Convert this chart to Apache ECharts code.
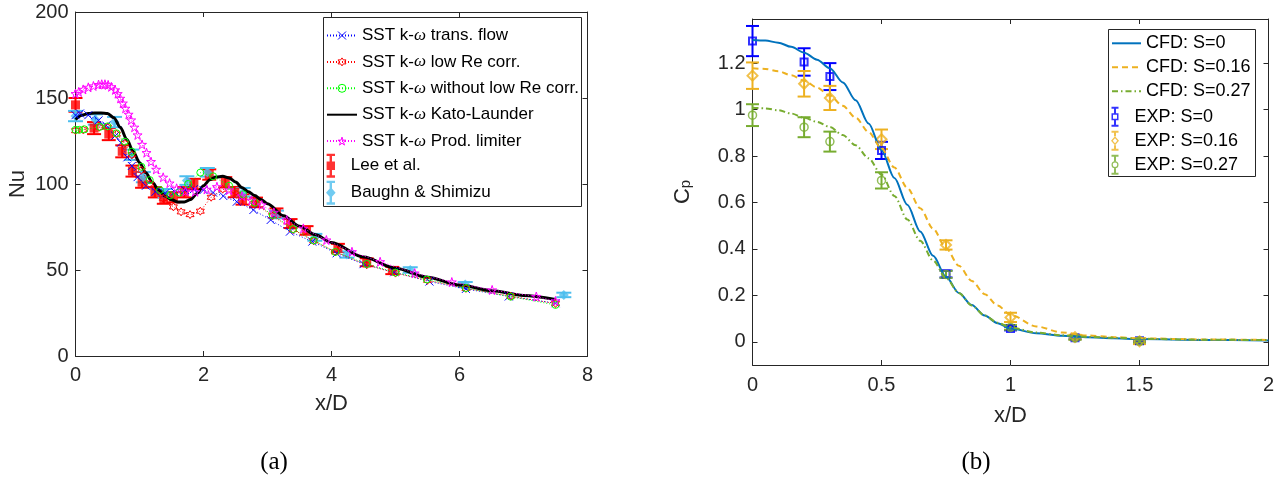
<!DOCTYPE html>
<html><head><meta charset="utf-8">
<script src="https://cdn.jsdelivr.net/npm/echarts@6/dist/echarts.min.js"></script>
<style>html,body{margin:0;padding:0;background:#fff}#c{width:1286px;height:479px}</style>
</head><body><div id="c"></div>
<script>
// ---------------- (a) Nu vs x/D ----------------
const transFlow = [[0,140],[0.07,141],[0.2,140],[0.36,137],[0.48,134],[0.62,128],[0.71,124],[0.81,115.5],[0.88,110.5],[0.97,104],[1.1,99],[1.25,95.5],[1.4,94.6],[1.55,95.5],[1.71,96.5],[1.85,97],[2.0,96.5],[2.15,95],[2.31,93],[2.52,89.7],[2.78,84.9],[3.05,79.1],[3.35,72.3],[3.7,66.5],[4.08,59.7],[4.5,53.4],[4.98,48.7],[5.53,43.3],[6.1,39],[6.77,34.6],[7.5,30.7]];
const lowReCorr = [[0,131],[0.12,131.5],[0.37,133],[0.5,133],[0.64,129],[0.77,123.5],[0.88,117],[1.03,108],[1.16,100],[1.37,91.7],[1.53,86.7],[1.65,83.8],[1.79,82.2],[1.95,84.2],[2.12,92.3],[2.3,97],[2.52,94],[2.8,88.5],[3.08,81.5],[3.4,73.5],[3.72,67],[4.06,60.5],[4.55,53],[5.0,48.2],[5.5,44],[6.1,39.3],[6.8,34.8],[7.5,30.5]];
const withoutLowRe = [[0,131.5],[0.06,131.5],[0.14,131.8],[0.38,133.2],[0.5,133.5],[0.64,129.5],[0.77,124.6],[0.88,118.8],[1.03,110],[1.16,102.3],[1.32,96.5],[1.48,93.5],[1.62,95],[1.76,100],[1.95,106.6],[2.15,104.5],[2.4,99],[2.62,94],[2.8,89.1],[3.08,82],[3.4,73.8],[3.72,67.2],[4.06,60.5],[4.55,53.5],[5.0,48.5],[5.49,44.5],[6.1,39.5],[6.8,34.5],[7.5,29.7]];
const katoLaunder = [[0,137.5],[0.1,140],[0.2,141],[0.3,141.3],[0.4,141.3],[0.5,141],[0.6,138.5],[0.7,133],[0.8,126],[0.9,119],[1.0,112.5],[1.1,106.5],[1.2,101],[1.3,96.5],[1.4,93],[1.5,90.8],[1.6,89.5],[1.7,89.5],[1.8,91],[1.9,94.5],[2.0,99],[2.1,102.5],[2.2,104],[2.3,104.5],[2.4,103.5],[2.5,101.2],[2.6,98],[2.7,95.5],[2.8,93.3],[2.9,91],[3.0,88.5],[3.25,81.5],[3.5,75.5],[3.75,70.5],[4.0,66],[4.5,57.5],[5.0,51],[5.5,45.8],[6.0,41.3],[6.5,38],[7.0,35.2],[7.5,32.8]];
const prodLimiter = [[0,152.5],[0.05,153.5],[0.12,155],[0.2,156.2],[0.28,157],[0.36,157.8],[0.41,158],[0.46,158],[0.51,157.6],[0.56,156.5],[0.62,154.7],[0.66,152.5],[0.7,149.8],[0.74,147],[0.78,144],[0.83,140.5],[0.87,137.2],[0.92,133],[0.97,128.5],[1.04,123],[1.11,118.2],[1.18,113],[1.26,108.5],[1.37,103.9],[1.47,100.5],[1.58,97.5],[1.72,95.8],[1.87,95.5],[2.05,96.9],[2.21,98.4],[2.4,96.5],[2.6,93],[2.75,90.5],[2.91,87.8],[3.1,83.5],[3.3,79],[3.56,74.2],[3.92,67.4],[4.32,60.6],[4.76,54.8],[5.3,48.2],[5.88,43],[6.51,38.4],[7.2,34.6],[7.5,32]];
const leeX   = [0,0.29,0.52,0.73,0.89,1.04,1.24,1.38,1.53,1.7,1.85,2.09,2.34,2.49,2.61,2.82,3.14,3.36,3.61,4.1,4.55,4.95];
const leeNu  = [146,132.5,129,119,107.5,101,95.2,91.5,92.3,95.2,100,105.5,101,95.3,91,89.3,83,77,73,62.8,54.5,49.7];
const leeErr = [4,3.5,3.5,3.5,3.2,3.2,3,3,3,3,3,3,3,3,3,2.8,2.8,2.6,2.5,2.4,2.3,2.1];
const baughnX   = [0,0.31,0.61,0.88,1.06,1.4,1.74,2.06,2.62,3.14,3.74,4.24,5.23,6.09,7.63];
const baughnNu  = [139.5,137.5,136,117,104,94.6,102,106.8,95.2,82.3,69,59,50,41.5,35.5];
const baughnErr = [3,3,3,3,3,2.5,2.5,2.5,2.5,2.2,2,1.8,1.6,1.5,1.3];

// ---------------- (b) Cp vs x/D ----------------
const cfdX    = [0,0.05,0.1,0.15,0.2,0.25,0.3,0.35,0.4,0.45,0.5,0.55,0.6,0.65,0.7,0.75,0.8,0.85,0.9,0.95,1,1.1,1.2,1.3,1.4,1.5,1.75,2];
const cfdS0   = [1.300,1.297,1.288,1.270,1.245,1.215,1.178,1.117,1.04,0.94,0.825,0.705,0.59,0.475,0.37,0.28,0.21,0.158,0.113,0.08,0.057,0.037,0.026,0.019,0.015,0.012,0.008,0.006];
const cfdS016 = [1.178,1.175,1.165,1.148,1.125,1.095,1.06,1.016,0.965,0.903,0.833,0.75,0.663,0.575,0.487,0.403,0.327,0.262,0.205,0.156,0.116,0.066,0.04,0.027,0.02,0.015,0.01,0.008];
const cfdS027 = [1.008,1.005,0.997,0.983,0.965,0.947,0.925,0.89,0.846,0.79,0.72,0.628,0.527,0.435,0.35,0.275,0.21,0.156,0.113,0.082,0.061,0.04,0.028,0.021,0.017,0.013,0.009,0.007];
const expX    = [0,0.2,0.3,0.5,0.75,1,1.25,1.5];
const expS0   = [1.295,1.205,1.142,0.824,0.292,0.057,0.017,0.004];
const errS0   = [0.065,0.059,0.058,0.037,0.015,0.008,0.006,0.005];
const expS016 = [1.146,1.111,1.05,0.872,0.417,0.105,0.02,0.002];
const errS016 = [0.057,0.055,0.052,0.042,0.02,0.02,0.01,0.012];
const expS027 = [0.976,0.924,0.862,0.695,0.29,0.062,0.017,0.003];
const errS027 = [0.047,0.043,0.043,0.035,0.015,0.01,0.008,0.006];
const cpTicks = [0,0.2,0.4,0.6,0.8,1,1.2];

// ---------------- styling ----------------
const FONT = '"Liberation Sans", Arial, Helvetica, sans-serif';
const AX = '#262626';
const SYM = {
  x: 'path://M0,0L10,10M10,0L0,10',
  hex: 'path://M10,0L12.89,5L18.66,5L15.77,10L18.66,15L12.89,15L10,20L7.11,15L1.34,15L4.23,10L1.34,5L7.11,5Z',
  pent: 'path://M10,0L12.25,6.91L19.51,6.91L13.63,11.18L15.88,18.09L10,13.82L4.12,18.09L6.37,11.18L0.49,6.91L7.75,6.91Z'
};
const CAPS = 'M3,0H17V4H3Z M3,36H17V40H3Z ';
const ICON = {
  leeSq: 'path://' + CAPS + 'M8,0H12V40H8Z M3,13H17V27H3Z',
  baDia: 'path://' + CAPS + 'M8,0H12V40H8Z M10,11L18,20L10,29L2,20Z',
  sqHollow: 'path://' + CAPS + 'M8,0H12V13H8Z M8,27H12V40H8Z M3,13H17V27H3Z M6,16V24H14V16Z',
  diaHollow: 'path://' + CAPS + 'M8,0H12V11H8Z M8,29H12V40H8Z M10,11L18,20L10,29L2,20Z M10,15L5.5,20L10,25L14.5,20Z',
  cirHollow: 'path://' + CAPS + 'M8,0H12V13H8Z M8,27H12V40H8Z M3,20A7,7 0 1,0 17,20A7,7 0 1,0 3,20Z M5.5,20A4.5,4.5 0 1,1 14.5,20A4.5,4.5 0 1,1 5.5,20Z'
};

function pairs(xs, ys) { return xs.map((x, i) => [x, ys[i]]); }
function triples(xs, ys, es) { return xs.map((x, i) => [x, ys[i], es[i]]); }

function errRender(color, half, lw) {
  return function (params, api) {
    const x = api.value(0), y = api.value(1), e = api.value(2);
    const hi = api.coord([x, y + e]);
    const lo = api.coord([x, y - e]);
    const st = { stroke: color, lineWidth: lw, fill: null };
    return { type: 'group', children: [
      { type: 'line', shape: { x1: hi[0], y1: hi[1], x2: lo[0], y2: lo[1] }, style: st },
      { type: 'line', shape: { x1: hi[0] - half, y1: hi[1], x2: hi[0] + half, y2: hi[1] }, style: st },
      { type: 'line', shape: { x1: lo[0] - half, y1: lo[1], x2: lo[0] + half, y2: lo[1] }, style: st }
    ]};
  };
}

function dotLine(name, data, color, symbol, size) {
  return { name, type: 'line', xAxisIndex: 0, yAxisIndex: 0, data, symbol, symbolSize: size,
    showSymbol: true, lineStyle: { color, width: 1, type: [1, 2] },
    itemStyle: { color: 'rgba(0,0,0,0)', borderColor: color, borderWidth: 1 },
    emphasis: { disabled: true }, silent: true };
}
function errSeries(name, data, color, half, lw, xi, yi) {
  return { name, type: 'custom', xAxisIndex: xi, yAxisIndex: yi, data, renderItem: errRender(color, half, lw),
    encode: { x: 0, y: 1 }, silent: true };
}
function cfdLine(name, xs, ys, color, type) {
  return { name, type: 'line', xAxisIndex: 2, yAxisIndex: 2, data: pairs(xs, ys), symbol: 'none',
    smooth: 0.3, smoothMonotone: 'x', lineStyle: { color, width: 2, type }, itemStyle: { color },
    emphasis: { disabled: true }, silent: true };
}

function valAxis(extra) {
  return Object.assign({
    type: 'value', splitLine: { show: false },
    axisLine: { show: true, onZero: false, lineStyle: { color: AX, width: 1 } },
    axisTick: { show: true, inside: true, length: 5, lineStyle: { color: AX, width: 1 } },
    axisLabel: { show: true, color: AX, fontSize: 20, fontFamily: FONT, showMinLabel: true, showMaxLabel: true }
  }, extra);
}
function mirror(extra) {
  const a = valAxis(extra);
  a.axisLabel = { show: false };
  return a;
}

const legendText = (size) => ({ fontSize: size, lineHeight: size, color: '#000', fontFamily: FONT,
  rich: { w: { fontSize: size, lineHeight: size, fontStyle: 'italic', fontFamily: '"Liberation Serif", serif', color: '#000' } } });
const hollow = (c) => ({ color: 'rgba(0,0,0,0)', borderColor: c, borderWidth: 1 });
const noSym = { opacity: 0 };

const option = {
  animation: false,
  grid: [
    { left: 75.5, top: 12, width: 512, height: 344, outerBoundsMode: 'none', containLabel: false },
    { left: 752.5, top: 19, width: 516, height: 346, outerBoundsMode: 'none', containLabel: false }
  ],
  xAxis: [
    valAxis({ gridIndex: 0, min: 0, max: 8, interval: 2, position: 'bottom',
      axisLabel: { color: AX, fontSize: 20, fontFamily: FONT, margin: 9, showMinLabel: true, showMaxLabel: true },
      name: 'x/D', nameLocation: 'middle', nameGap: 37, nameTextStyle: { color: AX, fontSize: 22, fontFamily: FONT } }),
    mirror({ gridIndex: 0, min: 0, max: 8, interval: 2, position: 'top' }),
    valAxis({ gridIndex: 1, min: 0, max: 2, interval: 0.5, position: 'bottom',
      axisLabel: { color: AX, fontSize: 20, fontFamily: FONT, margin: 10, showMinLabel: true, showMaxLabel: true },
      name: 'x/D', nameLocation: 'middle', nameGap: 40, nameTextStyle: { color: AX, fontSize: 22, fontFamily: FONT } }),
    mirror({ gridIndex: 1, min: 0, max: 2, interval: 0.5, position: 'top' })
  ],
  yAxis: [
    valAxis({ gridIndex: 0, min: 0, max: 200, interval: 50, position: 'left',
      axisLabel: { color: AX, fontSize: 20, fontFamily: FONT, margin: 7, showMinLabel: true, showMaxLabel: true },
      name: 'Nu', nameLocation: 'middle', nameGap: 47, nameTextStyle: { color: AX, fontSize: 22, fontFamily: FONT } }),
    mirror({ gridIndex: 0, min: 0, max: 200, interval: 50, position: 'right' }),
    valAxis({ gridIndex: 1, min: -0.1, max: 1.39, position: 'left',
      axisLabel: { color: AX, fontSize: 20, fontFamily: FONT, margin: 7, customValues: cpTicks },
      axisTick: { show: true, inside: true, length: 5, lineStyle: { color: AX, width: 1 }, customValues: cpTicks },
      name: '{c|C}{p|p}', nameLocation: 'middle', nameGap: 59,
      nameTextStyle: { color: AX, fontFamily: FONT, rich: {
        c: { fontSize: 22, lineHeight: 22, color: AX, fontFamily: FONT, verticalAlign: 'middle' },
        p: { fontSize: 15, lineHeight: 15, color: AX, fontFamily: FONT, verticalAlign: 'bottom', padding: [14, 0, 0, 0] } } } }),
    (function () { const a = mirror({ gridIndex: 1, min: -0.1, max: 1.39, position: 'right' });
      a.axisTick.customValues = cpTicks; return a; })()
  ],
  legend: [
    { orient: 'vertical', left: 326, top: 27, itemWidth: 30, itemHeight: 10, itemGap: 9.4, padding: 0, z: 10,
      selectedMode: false, textStyle: legendText(17), formatter: (n) => n.replace('ω', '{w|ω}'),
      data: [
        { name: 'SST k-ω trans. flow', itemStyle: hollow('#0000FF') },
        { name: 'SST k-ω low Re corr.', itemStyle: hollow('#FF0000') },
        { name: 'SST k-ω without low Re corr.', itemStyle: hollow('#00FF00') },
        { name: 'SST k-ω Kato-Launder', itemStyle: noSym },
        { name: 'SST k-ω Prod. limiter', itemStyle: hollow('#FF00FF') }
      ] },
    { orient: 'vertical', left: 326, top: 153.7, itemWidth: 30, itemHeight: 24, itemGap: 3, padding: 0, z: 10,
      selectedMode: false, textStyle: legendText(17),
      data: [
        { name: 'Lee et al.', icon: ICON.leeSq, itemStyle: { color: '#FF0000', borderWidth: 0 } },
        { name: 'Baughn & Shimizu', icon: ICON.baDia, itemStyle: { color: '#4DBEEE', borderWidth: 0 } }
      ] },
    { orient: 'vertical', left: 1111, top: 34.3, itemWidth: 29, itemHeight: 10, itemGap: 6, padding: 0, z: 10,
      selectedMode: false, textStyle: legendText(18),
      data: [
        { name: 'CFD: S=0', itemStyle: noSym },
        { name: 'CFD: S=0.16', itemStyle: noSym },
        { name: 'CFD: S=0.27', itemStyle: noSym }
      ] },
    { orient: 'vertical', left: 1111, top: 106.7, itemWidth: 29, itemHeight: 20, itemGap: 4, padding: 0, z: 10,
      selectedMode: false, textStyle: legendText(18),
      data: [
        { name: 'EXP: S=0', icon: ICON.sqHollow, itemStyle: { color: '#0000FF', borderWidth: 0 } },
        { name: 'EXP: S=0.16', icon: ICON.diaHollow, itemStyle: { color: '#EDB120', borderWidth: 0 } },
        { name: 'EXP: S=0.27', icon: ICON.cirHollow, itemStyle: { color: '#77AC30', borderWidth: 0 } }
      ] }
  ],
  graphic: [
    { type: 'rect', z: 5, shape: { x: 323.5, y: 17.5, width: 258, height: 189 }, style: { fill: '#fff', stroke: AX, lineWidth: 1 } },
    { type: 'rect', z: 5, shape: { x: 1108.5, y: 29.5, width: 147, height: 147 }, style: { fill: '#fff', stroke: AX, lineWidth: 1 } },
    { type: 'text', z: 5, x: 274, y: 462, style: { text: '(a)', align: 'center', verticalAlign: 'middle', fontSize: 25, fontFamily: '"Liberation Serif", serif', fill: '#000' } },
    { type: 'text', z: 5, x: 976, y: 462, style: { text: '(b)', align: 'center', verticalAlign: 'middle', fontSize: 25, fontFamily: '"Liberation Serif", serif', fill: '#000' } }
  ],
  series: [
    dotLine('SST k-ω trans. flow', transFlow, '#0000FF', SYM.x, 8),
    dotLine('SST k-ω low Re corr.', lowReCorr, '#FF0000', SYM.hex, 8),
    dotLine('SST k-ω without low Re corr.', withoutLowRe, '#00FF00', 'circle', 7),
    { name: 'SST k-ω Kato-Launder', type: 'line', xAxisIndex: 0, yAxisIndex: 0, data: katoLaunder, symbol: 'none',
      smooth: 0.3, smoothMonotone: 'x', lineStyle: { color: '#000', width: 3 }, itemStyle: { color: '#000' },
      emphasis: { disabled: true }, silent: true },
    dotLine('SST k-ω Prod. limiter', prodLimiter, '#FF00FF', SYM.pent, 9),
    errSeries('Lee err', triples(leeX, leeNu, leeErr), '#FF0000', 7, 2, 0, 0),
    { name: 'Lee et al.', type: 'scatter', xAxisIndex: 0, yAxisIndex: 0, data: pairs(leeX, leeNu), symbol: 'rect', symbolSize: 9,
      itemStyle: { color: '#FF0000' }, emphasis: { disabled: true }, silent: true },
    errSeries('Baughn err', triples(baughnX, baughnNu, baughnErr), '#4DBEEE', 7.5, 2, 0, 0),
    { name: 'Baughn & Shimizu', type: 'scatter', xAxisIndex: 0, yAxisIndex: 0, data: pairs(baughnX, baughnNu), symbol: 'diamond', symbolSize: 10,
      itemStyle: { color: '#4DBEEE' }, emphasis: { disabled: true }, silent: true },

    cfdLine('CFD: S=0', cfdX, cfdS0, '#0072BD', 'solid'),
    cfdLine('CFD: S=0.16', cfdX, cfdS016, '#EDB120', [6, 4]),
    cfdLine('CFD: S=0.27', cfdX, cfdS027, '#77AC30', [6, 3, 1.5, 3]),
    errSeries('EXP0 err', triples(expX, expS0, errS0), '#0000FF', 6.5, 2, 2, 2),
    { name: 'EXP: S=0', type: 'scatter', xAxisIndex: 2, yAxisIndex: 2, data: pairs(expX, expS0), symbol: 'rect', symbolSize: 7,
      itemStyle: { color: 'rgba(0,0,0,0)', borderColor: '#0000FF', borderWidth: 2 }, emphasis: { disabled: true }, silent: true },
    errSeries('EXP016 err', triples(expX, expS016, errS016), '#EDB120', 6.5, 2, 2, 2),
    { name: 'EXP: S=0.16', type: 'scatter', xAxisIndex: 2, yAxisIndex: 2, data: pairs(expX, expS016), symbol: 'diamond', symbolSize: 10,
      itemStyle: { color: 'rgba(0,0,0,0)', borderColor: '#EDB120', borderWidth: 2 }, emphasis: { disabled: true }, silent: true },
    errSeries('EXP027 err', triples(expX, expS027, errS027), '#77AC30', 6.5, 2, 2, 2),
    { name: 'EXP: S=0.27', type: 'scatter', xAxisIndex: 2, yAxisIndex: 2, data: pairs(expX, expS027), symbol: 'circle', symbolSize: 8,
      itemStyle: { color: 'rgba(0,0,0,0)', borderColor: '#77AC30', borderWidth: 1.5 }, emphasis: { disabled: true }, silent: true }
  ]
};

const chart = echarts.init(document.getElementById('c'), null, { renderer: 'canvas' });
chart.setOption(option);
</script></body></html>
